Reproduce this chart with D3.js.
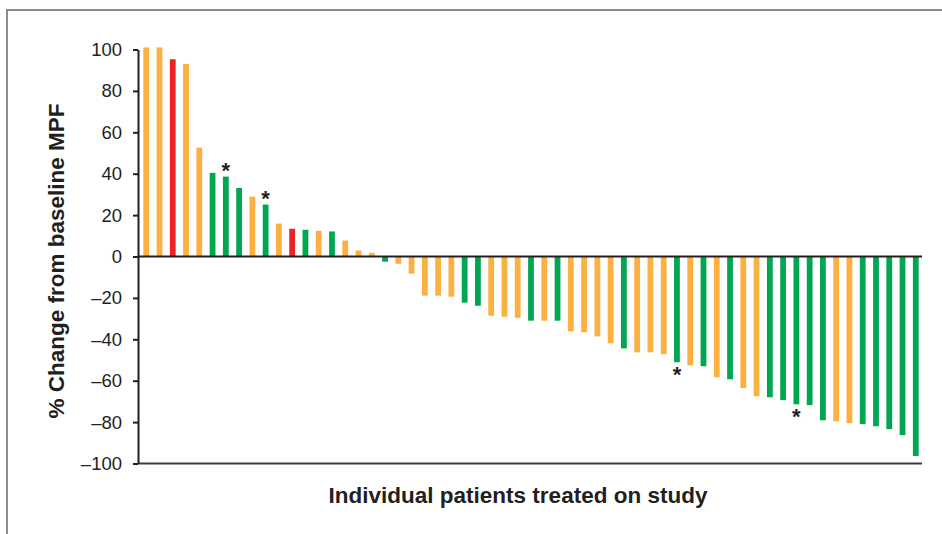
<!DOCTYPE html>
<html>
<head>
<meta charset="utf-8">
<script src="https://cdn.jsdelivr.net/npm/d3@7"></script>
<style>
  body { margin: 0; background: #fff; }
  svg { display: block; font-family: "Liberation Sans", Arial, sans-serif; }
</style>
</head>
<body>
<div id="chart"></div>
<script>
// % change from baseline per patient, sorted
var values = [101, 101, 95.3, 93, 52.6, 40.4, 38.6, 33.1, 28.9, 25.1,
              15.9, 13.4, 12.9, 12.4, 12.1, 7.7, 2.9, 1.8, -2.5, -3.5,
              -8.3, -18.9, -18.9, -19.4, -22.3, -23.8, -28.6, -29.1, -29.6, -31.0,
              -31.0, -31.0, -36.2, -36.6, -38.6, -41.9, -44.4, -46.3, -46.3, -47.2,
              -51.1, -52.6, -53.0, -58.3, -59.3, -63.6, -67.5, -68.0, -69.4, -71.4,
              -71.8, -79.1, -79.6, -80.5, -81.0, -82.0, -83.4, -86.3, -96.4];

// response group per patient: O = orange, R = red, G = green
var groups = ["O", "O", "R", "O", "O", "G", "G", "G", "O", "G",
              "O", "R", "G", "O", "G", "O", "O", "O", "G", "O",
              "O", "O", "O", "O", "G", "G", "O", "O", "O", "G",
              "O", "G", "O", "O", "O", "O", "G", "O", "O", "O",
              "G", "O", "G", "O", "G", "O", "O", "G", "G", "G",
              "G", "G", "O", "O", "G", "G", "G", "G", "G"];

// patients marked with an asterisk (1-based)
var starred = [7, 10, 41, 50];

var yTicks = [100, 80, 60, 40, 20, 0, -20, -40, -60, -80, -100];

var colors = { O: "#fdb042", R: "#ec2227", G: "#00a651" };

var width = 942, height = 534;
var plotLeft = 138, plotRight = 922, plotTop = 49.5, plotBottom = 463.5;

var svg = d3.select("#chart").append("svg")
  .attr("width", width)
  .attr("height", height);

// outer frame (top and left edges)
svg.append("path")
  .attr("d", "M7,534 L7,10 L942,10")
  .attr("fill", "none")
  .attr("stroke", "#8c8c8c")
  .attr("stroke-width", 2);

var patients = d3.range(1, values.length + 1);

var x = d3.scaleBand()
  .domain(patients)
  .range([138, 924])
  .paddingInner(0.563)
  .paddingOuter(0.4);

var y = d3.scaleLinear()
  .domain([-100, 100])
  .range([plotBottom, plotTop]);

// bars
svg.append("g").selectAll("rect")
  .data(patients)
  .join("rect")
  .attr("x", function(d) { return x(d); })
  .attr("width", x.bandwidth())
  .attr("y", function(d) { return y(Math.max(0, values[d - 1])); })
  .attr("height", function(d) { return Math.abs(y(values[d - 1]) - y(0)); })
  .attr("fill", function(d) { return colors[groups[d - 1]]; });

// zero line and bottom line
svg.append("line")
  .attr("x1", plotLeft).attr("x2", plotRight)
  .attr("y1", y(0)).attr("y2", y(0))
  .attr("stroke", "#231f20").attr("stroke-width", 2);

svg.append("line")
  .attr("x1", plotLeft).attr("x2", plotRight)
  .attr("y1", y(-100)).attr("y2", y(-100))
  .attr("stroke", "#3a3a3a").attr("stroke-width", 2);

// y axis
var yAxis = d3.axisLeft(y)
  .tickValues(yTicks)
  .tickSize(5)
  .tickSizeOuter(0)
  .tickPadding(11)
  .tickFormat(function(d) { return d < 0 ? "\u2013" + Math.abs(d) : d; });

var gy = svg.append("g")
  .attr("transform", "translate(" + plotLeft + ",0)")
  .call(yAxis);

gy.select(".domain").attr("stroke", "#231f20").attr("stroke-width", 2);
gy.selectAll(".tick line").attr("stroke", "#231f20").attr("stroke-width", 2);
gy.selectAll(".tick text")
  .attr("fill", "#231f20")
  .style("font-size", "18.5px")
  .style("font-family", "'Liberation Sans', Arial, sans-serif");

// asterisks
svg.append("g").selectAll("text")
  .data(starred)
  .join("text")
  .attr("x", function(d) { return x(d) + x.bandwidth() / 2; })
  .attr("y", function(d) {
    var v = values[d - 1];
    return v >= 0 ? y(v) + 1 : y(v) + 20;
  })
  .attr("text-anchor", "middle")
  .attr("fill", "#231f20")
  .style("font-size", "22px")
  .style("font-weight", "bold")
  .text("*");

// axis titles
svg.append("text")
  .attr("x", 518)
  .attr("y", 503)
  .attr("text-anchor", "middle")
  .attr("fill", "#231f20")
  .style("font-size", "22.5px")
  .style("font-weight", "bold")
  .text("Individual patients treated on study");

svg.append("text")
  .attr("transform", "translate(64,261) rotate(-90)")
  .attr("text-anchor", "middle")
  .attr("fill", "#231f20")
  .style("font-size", "22.5px")
  .style("font-weight", "bold")
  .text("% Change from baseline MPF");
</script>
</body>
</html>
